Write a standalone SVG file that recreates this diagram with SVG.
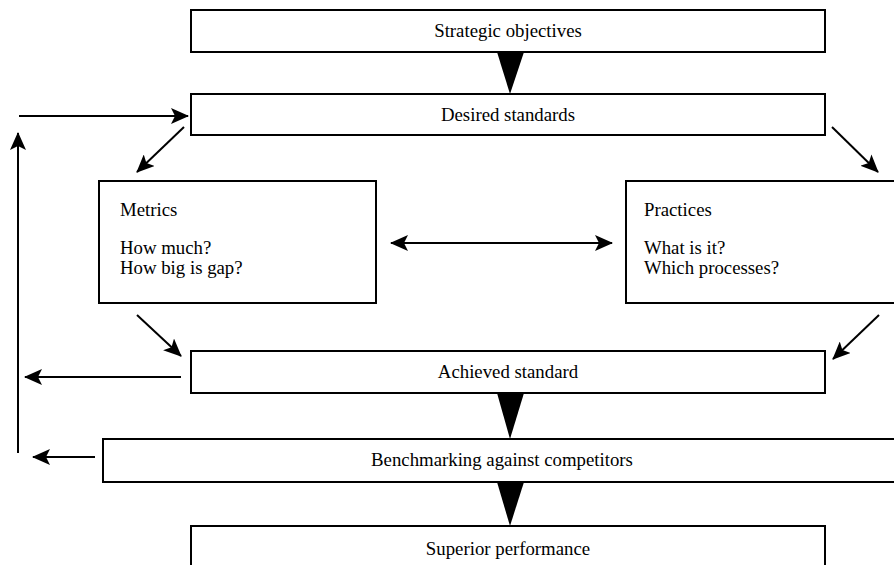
<svg xmlns="http://www.w3.org/2000/svg" width="894" height="565" viewBox="0 0 894 565">
  <defs>
    <marker id="arrow" viewBox="0 0 18 16" refX="17" refY="8" markerWidth="18" markerHeight="16" markerUnits="userSpaceOnUse" orient="auto-start-reverse">
      <path d="M0,0 L18,8 L0,16 L4,8 Z" fill="#000"/>
    </marker>
  </defs>
  <style>
    .box { fill: #fff; stroke: #000; stroke-width: 2; }
    .label { font-family: "Liberation Serif", "Times New Roman", serif; font-size: 18.8px; fill: #000; }
    .mid { text-anchor: middle; }
    .conn { stroke: #000; stroke-width: 2; fill: none; }
    .flow { fill: #000; stroke: none; }
  </style>
  <rect width="894" height="565" fill="#fff"/>

  <g id="strategic-objectives">
    <rect class="box" x="191" y="10" width="634" height="42"/>
    <text class="label mid" x="508" y="37">Strategic objectives</text>
  </g>
  <g id="desired-standards">
    <rect class="box" x="191" y="94" width="634" height="41"/>
    <text class="label mid" x="508" y="121">Desired standards</text>
  </g>
  <g id="metrics">
    <rect class="box" x="99" y="181" width="277" height="122"/>
    <text class="label" x="120" y="216">Metrics</text>
    <text class="label" x="120" y="254">How much?</text>
    <text class="label" x="120" y="274">How big is gap?</text>
  </g>
  <g id="practices">
    <rect class="box" x="626" y="181" width="280" height="122"/>
    <text class="label" x="644" y="216">Practices</text>
    <text class="label" x="644" y="254">What is it?</text>
    <text class="label" x="644" y="274">Which processes?</text>
  </g>
  <g id="achieved-standard">
    <rect class="box" x="191" y="351" width="634" height="42"/>
    <text class="label mid" x="508" y="378">Achieved standard</text>
  </g>
  <g id="benchmarking">
    <rect class="box" x="103" y="439" width="803" height="43"/>
    <text class="label mid" x="502" y="466">Benchmarking against competitors</text>
  </g>
  <g id="superior-performance">
    <rect class="box" x="191" y="526" width="634" height="50"/>
    <text class="label mid" x="508" y="555">Superior performance</text>
  </g>

  <g id="connectors">
    <!-- solid flow wedges down the main chain -->
    <polygon class="flow" points="497,52 524,52 510,94"/>
    <polygon class="flow" points="497,393 524,393 510,439"/>
    <polygon class="flow" points="497,482 524,482 510,526"/>
    <!-- desired standards split to metrics and practices -->
    <line class="conn" x1="184" y1="127" x2="137" y2="172" marker-end="url(#arrow)"/>
    <line class="conn" x1="832" y1="127" x2="878" y2="172" marker-end="url(#arrow)"/>
    <!-- metrics and practices feed achieved standard -->
    <line class="conn" x1="137" y1="315" x2="181" y2="356" marker-end="url(#arrow)"/>
    <line class="conn" x1="879" y1="315" x2="833" y2="359" marker-end="url(#arrow)"/>
    <!-- metrics to practices, both ways -->
    <line class="conn" x1="391" y1="243" x2="612" y2="243" marker-start="url(#arrow)" marker-end="url(#arrow)"/>
    <!-- feedback loop on the left -->
    <line class="conn" x1="181" y1="377" x2="25" y2="377" marker-end="url(#arrow)"/>
    <line class="conn" x1="95" y1="457" x2="33" y2="457" marker-end="url(#arrow)"/>
    <line class="conn" x1="18" y1="453" x2="18" y2="133" marker-end="url(#arrow)"/>
    <line class="conn" x1="19" y1="116" x2="188" y2="116" marker-end="url(#arrow)"/>
  </g>
</svg>
